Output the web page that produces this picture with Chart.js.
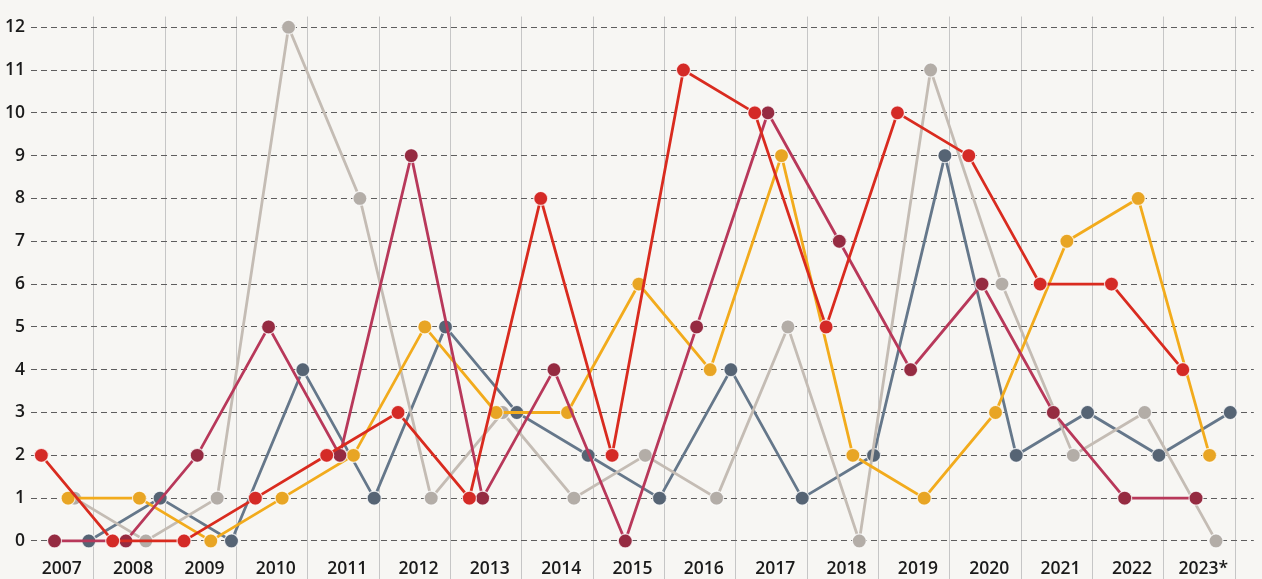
<!DOCTYPE html>
<html>
<head>
<meta charset="utf-8">
<script src="https://cdn.jsdelivr.net/npm/chart.js@4.4.1/dist/chart.umd.min.js"></script>
<style>
  html, body { margin: 0; padding: 0; background: #f7f6f3; }
  #wrap { width: 1262px; height: 579px; }
</style>
</head>
<body>
<div id="wrap"><canvas id="grafico" width="1262" height="579"></canvas></div>
<script>
// años (eje x) y marcas del eje y
const anios = ['2007', '2008', '2009', '2010', '2011', '2012', '2013', '2014', '2015',
               '2016', '2017', '2018', '2019', '2020', '2021', '2022', '2023*'];
const marcasY = [0, 1, 2, 3, 4, 5, 6, 7, 8, 9, 10, 11, 12];

// valores de cada serie, uno por año
const serieRoja    = [2, 0, 0, 1, 2, 3, 1, 8, 2, 11, 10, 5, 10, 9, 6, 6, 4];
const serieGranate = [0, 0, 2, 5, 2, 9, 1, 4, 0, 5, 10, 7, 4, 6, 3, 1, 1];
const serieNaranja = [1, 1, 0, 1, 2, 5, 3, 3, 6, 4, 9, 2, 1, 3, 7, 8, 2];
const serieGris    = [1, 0, 1, 12, 8, 1, 3, 1, 2, 1, 5, 0, 11, 6, 2, 3, 0];
const serieAzul    = [0, 1, 0, 4, 1, 5, 3, 2, 1, 4, 1, 2, 9, 2, 3, 2, 3];

const fuente = { family: "'Open Sans', sans-serif", size: 17.5, weight: '600' };

// cada serie va desplazada dentro de la franja de su año
function serie(nombre, valores, desplaz, colorLinea, colorPunto) {
    return {
        label: nombre,
        data: valores.map((v, i) => ({ x: i + desplaz, y: v })),
        borderColor: colorLinea,
        backgroundColor: colorPunto,
        borderWidth: 2.8,
        pointRadius: 7,
        pointBorderWidth: 1.2,
        pointBorderColor: 'rgba(255,255,255,0.75)',
        pointBackgroundColor: colorPunto,
        tension: 0,
        clip: false
    };
}

document.addEventListener("DOMContentLoaded", function() {
    const ctx = document.getElementById('grafico').getContext('2d');

    new Chart(ctx, {
        type: 'line',
        data: {
            datasets: [
                serie('Rojo', serieRoja, 0.265, '#d92b1f', '#d42a26'),
                serie('Granate', serieGranate, 0.45, '#b8385a', '#952b41'),
                serie('Naranja', serieNaranja, 0.64, '#f2ab1c', '#e8a524'),
                serie('Gris', serieGris, 0.73, '#c4bcb4', '#b3ada7'),
                serie('Azul', serieAzul, 0.93, '#65778a', '#566474')
            ]
        },
        options: {
            responsive: false,
            animation: false,
            layout: { padding: { top: 13, left: 0, right: 0, bottom: 0 } },
            plugins: {
                legend: { display: false },
                tooltip: { enabled: false }
            },
            scales: {
                x: {
                    type: 'linear',
                    min: 0.12,
                    max: 17.26,
                    afterBuildTicks: function(axis) {
                        axis.ticks = anios.map((_, i) => ({ value: i + 1 }));
                    },
                    afterFit: function(axis) { axis.height = 29.5; },
                    grid: {
                        color: '#c6c6c6',
                        lineWidth: 1,
                        drawTicks: true,
                        tickLength: 30,
                        tickColor: '#c6c6c6'
                    },
                    border: { display: false },
                    ticks: {
                        callback: function(value) { return anios[value - 1]; },
                        labelOffset: -32,
                        padding: -21,
                        autoSkip: false,
                        maxRotation: 0,
                        font: fuente,
                        color: '#1a1a1a'
                    }
                },
                y: {
                    min: -0.2,
                    max: 12.25,
                    afterBuildTicks: function(axis) {
                        axis.ticks = marcasY.map(v => ({ value: v }));
                    },
                    afterFit: function(axis) { axis.width = 31; },
                    grid: {
                        color: '#5e5e5e',
                        lineWidth: 1,
                        drawTicks: false
                    },
                    border: { display: false, dash: [6, 4] },
                    ticks: {
                        padding: 6,
                        font: fuente,
                        color: '#1a1a1a'
                    }
                }
            }
        }
    });
});
</script>
</body>
</html>
